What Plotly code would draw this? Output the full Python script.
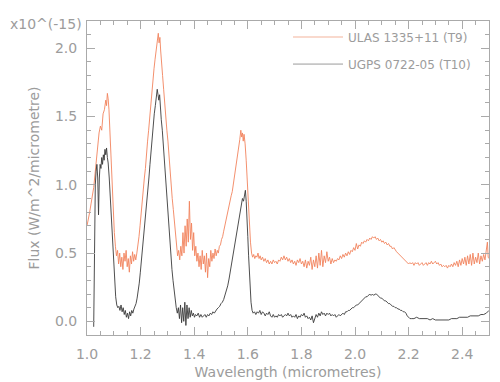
import plotly.graph_objects as go

# ULAS 1335+11 (T9) spectrum
ulas_wl = [1.000,1.005,1.010,1.015,1.020,1.025,1.030,1.035,1.040,1.045,1.050,1.055,1.060,1.065,1.070,1.073,1.076,1.079,1.082,1.086,
           1.090,1.094,1.098,1.102,1.106,1.110,1.114,1.118,1.122,1.126,1.130,1.134,1.138,1.142,1.146,1.150,1.154,1.158,1.162,1.166,
           1.170,1.174,1.178,1.182,1.186,1.190,1.194,1.198,1.202,1.206,1.210,1.214,1.218,1.222,1.226,1.230,1.234,1.238,1.242,1.246,
           1.250,1.254,1.258,1.262,1.266,1.269,1.272,1.275,1.278,1.282,1.286,1.290,1.294,1.298,1.302,1.306,1.310,1.314,1.318,1.322,
           1.326,1.330,1.334,1.338,1.342,1.346,1.350,1.354,1.358,1.362,1.366,1.370,1.374,1.378,1.382,1.386,1.390,1.394,1.398,1.402,
           1.406,1.410,1.414,1.418,1.422,1.426,1.430,1.434,1.438,1.442,1.446,1.450,1.454,1.458,1.462,1.466,1.470,1.474,1.478,1.482,
           1.486,1.490,1.494,1.498,1.502,1.506,1.510,1.514,1.518,1.522,1.526,1.530,1.534,1.538,1.542,1.546,1.550,1.554,1.558,1.562,
           1.566,1.570,1.574,1.577,1.580,1.583,1.586,1.590,1.594,1.598,1.602,1.606,1.610,1.614,1.618,1.622,1.626,1.630,1.634,1.638,
           1.642,1.646,1.650,1.655,1.660,1.665,1.670,1.675,1.680,1.685,1.690,1.695,1.700,1.705,1.710,1.715,1.720,1.725,1.730,1.735,
           1.740,1.745,1.750,1.755,1.760,1.765,1.770,1.775,1.780,1.785,1.790,1.795,1.800,1.805,1.810,1.815,1.820,1.825,1.830,1.835,
           1.840,1.845,1.850,1.855,1.860,1.865,1.870,1.875,1.880,1.885,1.890,1.895,1.900,1.905,1.910,1.915,1.920,1.925,1.930,1.935,
           1.940,1.945,1.950,1.955,1.960,1.965,1.970,1.975,1.980,1.985,1.990,1.995,2.000,2.005,2.010,2.015,2.020,2.025,2.030,2.035,
           2.040,2.045,2.050,2.055,2.060,2.065,2.070,2.075,2.080,2.085,2.090,2.095,2.100,2.105,2.110,2.115,2.120,2.125,2.130,2.135,
           2.140,2.145,2.150,2.155,2.160,2.165,2.170,2.175,2.180,2.185,2.190,2.195,2.200,2.205,2.210,2.215,2.220,2.225,2.230,2.235,
           2.240,2.245,2.250,2.255,2.260,2.265,2.270,2.275,2.280,2.285,2.290,2.295,2.300,2.305,2.310,2.315,2.320,2.325,2.330,2.335,
           2.340,2.345,2.350,2.355,2.360,2.365,2.370,2.375,2.380,2.385,2.390,2.395,2.400,2.405,2.410,2.415,2.420,2.425,2.430,2.435,
           2.440,2.445,2.450,2.455,2.460,2.465,2.470,2.475,2.480,2.485,2.490,2.494,2.497,2.500]
ulas_flux = [0.70,0.74,0.80,0.86,0.91,0.98,1.08,1.20,1.30,1.38,1.43,1.40,1.52,1.55,1.62,1.58,1.67,1.63,1.55,1.35,
             1.15,0.98,0.80,0.65,0.55,0.48,0.52,0.42,0.50,0.40,0.47,0.38,0.50,0.44,0.52,0.40,0.46,0.36,0.48,0.42,
             0.51,0.44,0.49,0.45,0.50,0.55,0.62,0.70,0.80,0.88,0.98,1.05,1.12,1.25,1.32,1.40,1.50,1.58,1.68,1.75,
             1.85,1.92,1.98,2.06,2.11,2.04,2.08,1.98,1.92,1.80,1.70,1.58,1.50,1.40,1.32,1.20,1.12,1.02,0.90,0.82,
             0.72,0.62,0.55,0.48,0.52,0.45,0.55,0.48,0.65,0.50,0.70,0.55,0.75,0.58,0.88,0.60,0.72,0.52,0.65,0.48,
             0.55,0.44,0.50,0.40,0.48,0.38,0.52,0.42,0.48,0.36,0.50,0.32,0.46,0.40,0.52,0.44,0.50,0.46,0.53,0.48,
             0.52,0.50,0.55,0.56,0.60,0.62,0.66,0.70,0.72,0.76,0.80,0.84,0.88,0.92,0.95,1.00,1.05,1.10,1.15,1.22,
             1.28,1.33,1.40,1.35,1.38,1.32,1.37,1.30,1.18,1.02,0.85,0.70,0.58,0.50,0.47,0.49,0.46,0.48,0.47,0.50,
             0.46,0.48,0.45,0.47,0.44,0.46,0.43,0.45,0.42,0.44,0.42,0.45,0.43,0.44,0.42,0.45,0.44,0.47,0.45,0.48,
             0.45,0.47,0.44,0.46,0.43,0.45,0.42,0.44,0.41,0.45,0.43,0.46,0.42,0.44,0.40,0.45,0.39,0.44,0.41,0.47,
             0.38,0.45,0.40,0.48,0.39,0.50,0.41,0.52,0.40,0.48,0.43,0.51,0.44,0.47,0.42,0.46,0.43,0.45,0.44,0.46,
             0.45,0.48,0.46,0.49,0.47,0.50,0.48,0.51,0.49,0.52,0.51,0.54,0.52,0.57,0.53,0.56,0.55,0.58,0.57,0.59,
             0.58,0.60,0.59,0.61,0.60,0.62,0.61,0.62,0.60,0.61,0.59,0.60,0.58,0.59,0.57,0.58,0.56,0.57,0.55,0.55,
             0.53,0.54,0.52,0.51,0.50,0.49,0.48,0.47,0.46,0.45,0.44,0.43,0.42,0.43,0.42,0.43,0.41,0.43,0.42,0.43,
             0.41,0.42,0.43,0.41,0.42,0.43,0.41,0.43,0.42,0.44,0.42,0.43,0.44,0.42,0.43,0.41,0.42,0.40,0.41,0.40,
             0.41,0.39,0.41,0.40,0.42,0.40,0.43,0.41,0.44,0.40,0.45,0.41,0.46,0.42,0.47,0.41,0.48,0.42,0.49,0.41,
             0.50,0.42,0.47,0.43,0.50,0.42,0.48,0.44,0.49,0.45,0.52,0.58,0.47,0.46]

# UGPS 0722-05 (T10) spectrum
ugps_wl = [1.025,1.027,1.029,1.031,1.034,1.037,1.040,1.043,1.046,1.049,1.052,1.055,1.058,1.061,1.064,1.067,1.070,1.073,1.076,1.079,
           1.083,1.087,1.091,1.095,1.099,1.103,1.107,1.111,1.115,1.119,1.123,1.127,1.131,1.135,1.139,1.143,1.147,1.151,1.155,1.159,
           1.163,1.167,1.171,1.175,1.179,1.183,1.187,1.191,1.195,1.199,1.203,1.207,1.211,1.215,1.219,1.223,1.227,1.231,1.235,1.239,
           1.243,1.247,1.251,1.255,1.259,1.262,1.265,1.268,1.271,1.274,1.277,1.281,1.285,1.289,1.293,1.297,1.301,1.305,1.309,1.313,
           1.317,1.321,1.325,1.329,1.333,1.337,1.341,1.345,1.349,1.353,1.357,1.361,1.365,1.369,1.373,1.377,1.381,1.385,1.389,1.393,
           1.397,1.401,1.405,1.410,1.415,1.420,1.425,1.430,1.435,1.440,1.445,1.450,1.455,1.460,1.465,1.470,1.475,1.480,1.485,1.490,
           1.495,1.500,1.505,1.510,1.515,1.520,1.525,1.530,1.535,1.540,1.545,1.550,1.555,1.560,1.565,1.570,1.575,1.580,1.584,1.588,
           1.591,1.594,1.597,1.600,1.603,1.606,1.609,1.612,1.616,1.620,1.625,1.630,1.635,1.640,1.645,1.650,1.655,1.660,1.665,1.670,
           1.675,1.680,1.685,1.690,1.695,1.700,1.705,1.710,1.715,1.720,1.725,1.730,1.735,1.740,1.745,1.750,1.755,1.760,1.765,1.770,
           1.775,1.780,1.785,1.790,1.795,1.800,1.805,1.810,1.815,1.820,1.825,1.830,1.835,1.840,1.845,1.850,1.855,1.860,1.865,1.870,
           1.875,1.880,1.885,1.890,1.895,1.900,1.905,1.910,1.915,1.920,1.925,1.930,1.935,1.940,1.945,1.950,1.955,1.960,1.965,1.970,
           1.975,1.980,1.985,1.990,1.995,2.000,2.005,2.010,2.015,2.020,2.025,2.030,2.035,2.040,2.045,2.050,2.055,2.060,2.065,2.070,
           2.075,2.080,2.085,2.090,2.095,2.100,2.105,2.110,2.115,2.120,2.125,2.130,2.135,2.140,2.145,2.150,2.155,2.160,2.165,2.170,
           2.175,2.180,2.185,2.190,2.195,2.200,2.205,2.210,2.220,2.230,2.240,2.250,2.260,2.270,2.280,2.290,2.300,2.310,2.320,2.330,
           2.340,2.350,2.360,2.370,2.380,2.390,2.400,2.410,2.420,2.430,2.440,2.450,2.460,2.470,2.480,2.490,2.500]
ugps_flux = [-0.04,0.30,0.75,1.00,1.10,1.15,1.05,0.78,1.05,1.15,1.12,1.20,1.15,1.22,1.18,1.26,1.22,1.27,1.20,1.16,
             1.05,0.90,0.72,0.55,0.40,0.28,0.18,0.12,0.10,0.11,0.08,0.12,0.07,0.10,0.05,0.08,0.03,0.06,0.02,0.07,
             0.04,0.08,0.06,0.09,0.11,0.13,0.17,0.22,0.28,0.36,0.44,0.52,0.60,0.68,0.76,0.85,0.95,1.05,1.15,1.25,
             1.35,1.45,1.52,1.58,1.65,1.70,1.66,1.62,1.66,1.55,1.48,1.40,1.28,1.15,1.02,0.90,0.80,0.68,0.58,0.48,
             0.38,0.30,0.22,0.15,0.10,0.06,0.10,0.02,0.12,-0.01,0.10,0.00,0.14,-0.03,0.12,0.02,0.10,0.03,0.08,0.04,
             0.06,0.03,0.05,0.04,0.06,0.03,0.05,0.03,0.04,0.05,0.03,0.05,0.04,0.06,0.05,0.07,0.06,0.08,0.09,0.10,
             0.11,0.13,0.14,0.16,0.19,0.22,0.26,0.31,0.37,0.43,0.50,0.56,0.62,0.68,0.74,0.80,0.86,0.90,0.88,0.94,
             0.96,0.88,0.78,0.62,0.48,0.35,0.24,0.14,0.08,0.06,0.07,0.05,0.07,0.06,0.08,0.05,0.07,0.06,0.04,0.06,
             0.05,0.07,0.04,0.03,0.05,0.03,0.04,0.03,0.05,0.04,0.05,0.03,0.04,0.05,0.04,0.06,0.04,0.05,0.03,0.04,
             0.03,0.05,0.02,0.04,0.03,0.05,0.04,0.06,0.03,0.04,0.02,0.03,0.01,0.04,-0.01,0.03,0.05,0.03,0.06,0.04,
             0.07,0.05,0.06,0.04,0.06,0.05,0.06,0.04,0.05,0.04,0.05,0.03,0.04,0.05,0.04,0.05,0.06,0.05,0.07,0.07,
             0.08,0.08,0.09,0.10,0.10,0.11,0.12,0.12,0.13,0.14,0.15,0.16,0.17,0.18,0.18,0.19,0.20,0.19,0.20,0.19,
             0.20,0.20,0.19,0.18,0.17,0.17,0.16,0.15,0.15,0.14,0.13,0.13,0.12,0.11,0.11,0.10,0.10,0.09,0.09,0.08,
             0.08,0.07,0.07,0.06,0.04,0.03,0.02,0.02,0.02,0.03,0.02,0.02,0.02,0.02,0.01,0.02,0.01,0.01,0.01,0.01,
             0.01,0.01,0.02,0.02,0.02,0.03,0.03,0.03,0.03,0.04,0.04,0.04,0.04,0.05,0.05,0.06,0.08]

series_names = ["ULAS 1335+11 (T9)", "UGPS 0722-05 (T10)"]
x_title = "Wavelength (micrometres)"
y_title = "Flux (W/m^2/micrometre)"
scale_label = "x10^(-15)"

ORANGE = "#f2835e"
DARK = "#3a3a3a"
AXIS = "#aaaaaa"
TEXT = "#9c9c9c"
FONT = "DejaVu Sans"

fig = go.Figure()
fig.add_trace(go.Scatter(x=ulas_wl, y=ulas_flux, mode="lines", showlegend=False,
                         line=dict(color=ORANGE, width=0.9)))
fig.add_trace(go.Scatter(x=ugps_wl, y=ugps_flux, mode="lines", showlegend=False,
                         line=dict(color=DARK, width=0.9)))
# legend entries
fig.add_trace(go.Scatter(x=[None], y=[None], mode="lines", name=series_names[0],
                         legendgroup="a", line=dict(color="#f7cdbd", width=1.5)))
fig.add_trace(go.Scatter(x=[None], y=[None], mode="lines", name=series_names[1],
                         legendgroup="b", line=dict(color="#9a9a9a", width=1)))

axis_common = dict(
    showline=True, linecolor=AXIS, linewidth=1, mirror="ticks",
    ticks="inside", tickcolor=AXIS, tickwidth=1, ticklen=8,
    showgrid=False, zeroline=False,
    tickfont=dict(family=FONT, size=14, color=TEXT),
    minor=dict(ticks="inside", ticklen=4, tickcolor=AXIS, tickwidth=1, showgrid=False),
)

fig.update_xaxes(range=[1.0, 2.5], dtick=0.2, tick0=1.0, tickformat=".1f",
                 minor_dtick=0.05, ticklabelstandoff=6,
                 title=dict(text=x_title, font=dict(family=FONT, size=14, color=TEXT), standoff=6),
                 **axis_common)
fig.update_yaxes(range=[-0.1, 2.2], dtick=0.5, tick0=0, tickformat=".1f",
                 minor_dtick=0.1, ticklabelstandoff=6,
                 title=dict(text=y_title, font=dict(family=FONT, size=14, color=TEXT), standoff=12),
                 **axis_common)

fig.add_annotation(text=scale_label, xref="paper", yref="paper", x=0, y=1,
                   xanchor="right", yanchor="middle", xshift=-3, yshift=-3, showarrow=False,
                   font=dict(family=FONT, size=14, color=TEXT))

fig.update_layout(
    width=500, height=382,
    margin=dict(l=79, r=19, t=12, b=49),
    paper_bgcolor="white", plot_bgcolor="white",
    legend=dict(x=0.5, y=0.995, xanchor="left", yanchor="top",
                font=dict(family=FONT, size=12, color=TEXT),
                bgcolor="rgba(0,0,0,0)", tracegroupgap=8, traceorder="grouped",
                itemwidth=50),
)

fig.write_html("out.html")
